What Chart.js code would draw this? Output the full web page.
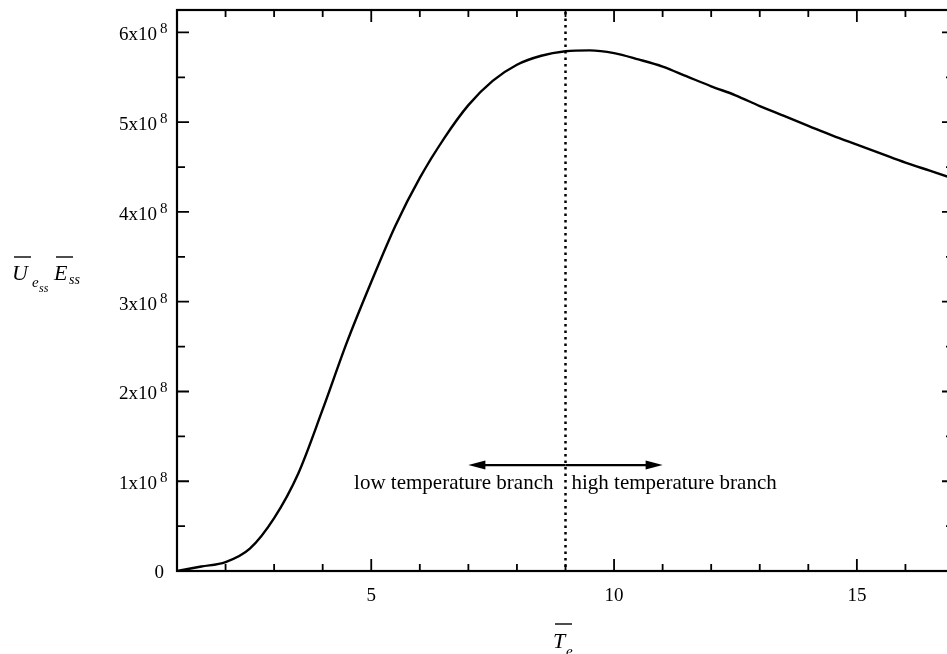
<!DOCTYPE html>
<html>
<head>
<meta charset="utf-8">
<script src="https://cdn.jsdelivr.net/npm/chart.js@4/dist/chart.umd.min.js"></script>
<style>
  html, body { margin: 0; padding: 0; background: #fff; overflow: hidden; }
  #wrap { width: 960px; height: 654px; }
</style>
</head>
<body>
<div id="wrap"><canvas id="chart" width="960" height="654"></canvas></div>
<script>
// Te values and the product U_e_ss * E_ss
const teValues = [1, 1.5, 2, 2.5, 3, 3.5, 4, 4.5, 5, 5.5, 6, 6.5, 7, 7.5, 8, 8.5, 9, 9.5,
                  10, 10.5, 11, 11.5, 12, 12.5, 13, 13.5, 14, 14.5, 15, 15.5, 16, 16.5, 17];
const ueValues = [0, 0.05e8, 0.1e8, 0.25e8, 0.59e8, 1.09e8, 1.8e8, 2.55e8, 3.22e8, 3.85e8,
                  4.38e8, 4.82e8, 5.19e8, 5.46e8, 5.64e8, 5.74e8, 5.79e8, 5.8e8,
                  5.77e8, 5.70e8, 5.62e8, 5.51e8, 5.40e8, 5.30e8, 5.18e8, 5.07e8, 4.96e8,
                  4.85e8, 4.75e8, 4.65e8, 4.55e8, 4.46e8, 4.37e8];

const xTickValues = [5, 10, 15];
const xTickLabels = ['5', '10', '15'];
const yTickValues = [0, 1e8, 2e8, 3e8, 4e8, 5e8, 6e8];
const yTickLabels = ['0', '1x10', '2x10', '3x10', '4x10', '5x10', '6x10'];

const branchTe = 9;
const arrowLevel = 1.18e8;
const arrowEnds = [7, 11];
const branchLabels = ['low temperature branch', 'high temperature branch'];

const SERIF = '"Liberation Serif", "DejaVu Serif", serif';

function arrow(ctx, x0, x1, y) {
    const dir = x1 > x0 ? 1 : -1;
    ctx.beginPath();
    ctx.moveTo(x0, y);
    ctx.lineTo(x1 - dir * 10, y);
    ctx.stroke();
    ctx.beginPath();
    ctx.moveTo(x1, y);
    ctx.lineTo(x1 - dir * 17, y - 4.5);
    ctx.lineTo(x1 - dir * 17, y + 4.5);
    ctx.closePath();
    ctx.fill();
}

const framePlugin = {
    id: 'frame',
    afterDraw(chart) {
        const ctx = chart.ctx;
        const xs = chart.scales.x, ys = chart.scales.y;
        const a = chart.chartArea;
        ctx.save();
        ctx.strokeStyle = '#000';
        ctx.fillStyle = '#000';

        // frame
        ctx.lineWidth = 2.2;
        ctx.strokeRect(a.left, a.top, a.right - a.left, a.bottom - a.top);

        // x ticks, every unit, pointing in
        ctx.lineWidth = 1.8;
        for (let v = 2; v < 17; v++) {
            const px = xs.getPixelForValue(v);
            const len = v % 5 === 0 ? 12 : 7;
            ctx.beginPath();
            ctx.moveTo(px, a.bottom); ctx.lineTo(px, a.bottom - len);
            ctx.moveTo(px, a.top); ctx.lineTo(px, a.top + len);
            ctx.stroke();
        }
        // y ticks, every half unit
        for (let v = 0.5e8; v < 6.25e8; v += 0.5e8) {
            const py = ys.getPixelForValue(v);
            const len = Math.round(v / 1e8) === v / 1e8 ? 12 : 8;
            ctx.beginPath();
            ctx.moveTo(a.left, py); ctx.lineTo(a.left + len, py);
            ctx.moveTo(a.right, py); ctx.lineTo(a.right - len, py);
            ctx.stroke();
        }

        // tick labels
        ctx.font = '19px ' + SERIF;
        ctx.textAlign = 'center';
        ctx.textBaseline = 'alphabetic';
        xTickValues.forEach((v, i) => {
            ctx.fillText(xTickLabels[i], xs.getPixelForValue(v), 601);
        });
        yTickValues.forEach((v, i) => {
            const py = ys.getPixelForValue(v);
            if (v === 0) {
                ctx.font = '19px ' + SERIF;
                ctx.textAlign = 'right';
                ctx.fillText(yTickLabels[i], 164, py + 7);
                return;
            }
            ctx.font = '19px ' + SERIF;
            ctx.textAlign = 'right';
            ctx.fillText(yTickLabels[i], 157, py + 8);
            ctx.font = '15px ' + SERIF;
            ctx.textAlign = 'left';
            ctx.fillText('8', 160, py + 1);
        });

        // branch divider
        const bx = xs.getPixelForValue(branchTe);
        ctx.lineWidth = 2.5;
        ctx.setLineDash([2.5, 4]);
        ctx.beginPath();
        ctx.moveTo(bx, a.top + 2);
        ctx.lineTo(bx, a.bottom);
        ctx.stroke();
        ctx.setLineDash([]);

        // arrows
        const ay = ys.getPixelForValue(arrowLevel);
        ctx.lineWidth = 2.2;
        arrow(ctx, bx, xs.getPixelForValue(arrowEnds[0]), ay);
        arrow(ctx, bx, xs.getPixelForValue(arrowEnds[1]), ay);

        ctx.font = '21px ' + SERIF;
        ctx.textAlign = 'right';
        ctx.fillText(branchLabels[0], bx - 12, ay + 24);
        ctx.textAlign = 'left';
        ctx.fillText(branchLabels[1], bx + 6, ay + 24);

        // axis titles
        ctx.lineWidth = 1.4;
        ctx.textAlign = 'left';
        ctx.font = 'italic 22px ' + SERIF;
        ctx.fillText('T', 553, 648);
        ctx.beginPath(); ctx.moveTo(555, 624); ctx.lineTo(572, 624); ctx.stroke();
        ctx.font = 'italic 15px ' + SERIF;
        ctx.fillText('e', 566, 656);

        ctx.font = 'italic 22px ' + SERIF;
        ctx.fillText('U', 12, 280);
        ctx.beginPath(); ctx.moveTo(14, 257); ctx.lineTo(31, 257); ctx.stroke();
        ctx.font = 'italic 15px ' + SERIF;
        ctx.fillText('e', 32, 287);
        ctx.font = 'italic 12px ' + SERIF;
        ctx.fillText('ss', 39, 292);
        ctx.font = 'italic 22px ' + SERIF;
        ctx.fillText('E', 54, 280);
        ctx.beginPath(); ctx.moveTo(56, 257); ctx.lineTo(73, 257); ctx.stroke();
        ctx.font = 'italic 14px ' + SERIF;
        ctx.fillText('ss', 69, 284);

        ctx.restore();
    }
};

new Chart(document.getElementById('chart').getContext('2d'), {
    type: 'line',
    data: {
        datasets: [{
            data: teValues.map((t, i) => ({ x: t, y: ueValues[i] })),
            borderColor: '#000',
            borderWidth: 2.4,
            pointRadius: 0,
            fill: false,
            cubicInterpolationMode: 'monotone'
        }]
    },
    options: {
        responsive: false,
        animation: false,
        devicePixelRatio: 1,
        layout: { padding: { left: 177, top: 10, right: 6, bottom: 83 } },
        plugins: { legend: { display: false }, tooltip: { enabled: false } },
        scales: {
            x: { type: 'linear', min: 1, max: 17, display: false },
            y: { type: 'linear', min: 0, max: 6.25e8, display: false }
        }
    },
    plugins: [framePlugin]
});
</script>
</body>
</html>
